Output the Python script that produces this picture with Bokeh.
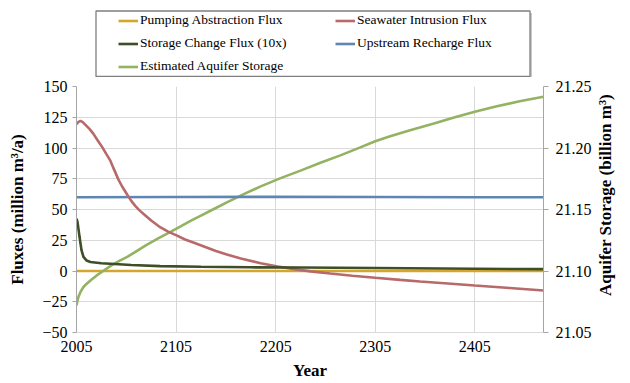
import math
from bokeh.plotting import figure
from bokeh.layouts import column, row
from bokeh.models import (Range1d, LinearAxis, FixedTicker, Legend, LegendItem,
                          PrintfTickFormatter)
from bokeh.core.properties import value
from bokeh.embed import file_html
from bokeh.resources import INLINE

# ---------------- data ----------------
pump_years = [2005, 2105, 2205, 2305, 2405, 2474]
pump_flux = [0, 0, 0, 0, 0, 0]

upstream_years = [2005, 2105, 2205, 2305, 2405, 2474]
upstream_flux = [60, 60.2, 60.3, 60.2, 60.0, 59.9]

seawater_years = [2005, 2007, 2009, 2011, 2014, 2018, 2022, 2026, 2031, 2035, 2039, 2043,
                  2047, 2051, 2056, 2060, 2064, 2068, 2073, 2080, 2089, 2097, 2106, 2114,
                  2123, 2135, 2145, 2156, 2170, 2190, 2207, 2224, 2240, 2260, 2282, 2305,
                  2330, 2350, 2378, 2405, 2440, 2474]
seawater_flux = [119.5, 121.2, 121.9, 121.2, 118.8, 115.5, 111.5, 106.5, 100.5, 95.0, 89.7, 82.0,
                 74.5, 68.5, 62.0, 57.0, 53.0, 49.5, 46.0, 41.0, 35.6, 32.0, 28.8, 25.6,
                 22.9, 19.3, 16.3, 13.4, 10.2, 6.3, 3.6, 1.5, -0.3, -2.0, -3.8, -5.5,
                 -7.2, -8.5, -10.2, -11.8, -13.8, -15.8]

change_years = [2005, 2006, 2007, 2008, 2010, 2012, 2015, 2019, 2030, 2039, 2060, 2089,
                2130, 2180, 2230, 2305, 2405, 2474]
change_flux = [42.5, 40.0, 34.0, 28.0, 17.0, 11.5, 8.6, 7.3, 6.3, 5.9, 4.9, 4.0,
               3.4, 3.0, 2.8, 2.4, 1.8, 1.5]

storage_years = [2005, 2006, 2007, 2009, 2012, 2015, 2019, 2025, 2031, 2040, 2048, 2056,
                 2065, 2075, 2087, 2099, 2110, 2120, 2130, 2140, 2156, 2173, 2190, 2210,
                 2230, 2250, 2270, 2290, 2305, 2320, 2340, 2364, 2385, 2405, 2425, 2450, 2474]
storage_bm3 = [21.072, 21.076, 21.079, 21.083, 21.087, 21.0895, 21.0923, 21.0962, 21.0996,
               21.1046, 21.1082, 21.1115, 21.116, 21.121, 21.1265, 21.1316, 21.1365, 21.141,
               21.145, 21.1492, 21.1558, 21.1625, 21.1688, 21.1755, 21.1816, 21.188, 21.194,
               21.2005, 21.2055, 21.2095, 21.2145, 21.22, 21.225, 21.2295, 21.2335, 21.238,
               21.2416]

x_ticks = [2005, 2105, 2205, 2305, 2405]
flux_ticks = [-50, -25, 0, 25, 50, 75, 100, 125, 150]
storage_ticks = [21.05, 21.10, 21.15, 21.20, 21.25]

series_labels = ["Pumping Abstraction Flux", "Seawater Intrusion Flux",
                 "Storage Change Flux (10x)", "Upstream Recharge Flux",
                 "Estimated Aquifer Storage"]

# ---------------- styling ----------------
SERIF = "Liberation Serif"
C_PUMP = "#d4a72c"
C_SEA = "#b8696a"
C_CHANGE = "#3e4e27"
C_UP = "#5f85b3"
C_STORE = "#93b262"
LW = 2.6

TOP_H = 77
MAIN_W, MAIN_H = 595, 383 - TOP_H
RIGHT_W = 630 - MAIN_W

# ---------------- legend strip (top) ----------------
lg = figure(width=630, height=TOP_H, output_backend="svg", toolbar_location=None,
            x_range=Range1d(0, 630), y_range=Range1d(TOP_H, 0),
            x_axis_type=None, y_axis_type=None,
            min_border=0, min_border_left=0, min_border_right=0,
            min_border_top=0, min_border_bottom=0)
lg.outline_line_color = None
lg.grid.visible = False
# legend frame with a light drop shadow
lg.quad(left=[97.5], right=[531.5], top=[12.5], bottom=[77], fill_color="#c8c8c8",
        line_color=None)
lg.quad(left=[95.5], right=[529.5], top=[10.5], bottom=[76], fill_color="white",
        line_color="#7f7f7f", line_width=1.3)

colors = [C_PUMP, C_SEA, C_CHANGE, C_UP, C_STORE]
nan = float("nan")
samples = [lg.line([nan], [nan], line_color=c, line_width=LW) for c in colors]

common = dict(orientation="vertical", padding=0, spacing=6, margin=0,
              glyph_width=20, glyph_height=17, label_height=17, label_standoff=2,
              label_text_font=SERIF, label_text_font_size="13.5px", label_text_color="black",
              border_line_color=None, background_fill_alpha=0)
leg1 = Legend(items=[LegendItem(label=series_labels[i], renderers=[samples[i]]) for i in (0, 2, 4)],
              location=(118, 2.5), **common)
leg2 = Legend(items=[LegendItem(label=series_labels[i], renderers=[samples[i]]) for i in (1, 3)],
              location=(335, 25.5), **common)
lg.add_layout(leg1)
lg.add_layout(leg2)

# ---------------- main chart ----------------
p = figure(width=MAIN_W, height=MAIN_H, output_backend="svg", toolbar_location=None,
           x_range=Range1d(2005, 2474), y_range=Range1d(-50, 150),
           min_border_left=76, min_border_right=52, min_border_top=9, min_border_bottom=51,
           background_fill_color="white", border_fill_color="white")
p.outline_line_color = None
p.extra_y_ranges = {"storage": Range1d(21.05, 21.25)}

p.line(pump_years, pump_flux, line_color=C_PUMP, line_width=LW)
p.line(storage_years, storage_bm3, line_color=C_STORE, line_width=LW, y_range_name="storage")
p.line(upstream_years, upstream_flux, line_color=C_UP, line_width=LW)
p.line(seawater_years, seawater_flux, line_color=C_SEA, line_width=LW)
p.line(change_years, change_flux, line_color=C_CHANGE, line_width=LW)

p.xaxis.ticker = FixedTicker(ticks=x_ticks)
p.yaxis.ticker = FixedTicker(ticks=flux_ticks)
p.xgrid.ticker = FixedTicker(ticks=x_ticks)
p.ygrid.ticker = FixedTicker(ticks=flux_ticks)
p.grid.grid_line_color = "#d9d9d9"
p.grid.grid_line_width = 1

p.xaxis.axis_label = "Year"
p.yaxis.axis_label = "Fluxes (million m\u00b3/a)"

right = LinearAxis(y_range_name="storage", ticker=FixedTicker(ticks=storage_ticks),
                   formatter=PrintfTickFormatter(format="%.2f"))
p.add_layout(right, "right")

for ax in [p.xaxis[0], p.yaxis[0], right]:
    ax.major_label_text_font = SERIF
    ax.major_label_text_font_size = "16px"
    ax.major_label_text_color = "black"
    ax.axis_label_text_font = SERIF
    ax.axis_label_text_font_size = "17px"
    ax.axis_label_text_font_style = "bold"
    ax.axis_label_text_color = "black"
    ax.minor_tick_line_color = None
    ax.major_tick_in = 0

p.xaxis.major_tick_out = 0
p.xaxis.major_label_standoff = 8
p.xaxis.axis_label_standoff = 6
p.xaxis.axis_line_color = "#d9d9d9"

p.yaxis[0].major_tick_out = 4
p.yaxis[0].major_label_standoff = 5
p.yaxis[0].axis_label_standoff = 12
p.yaxis[0].axis_line_color = "#a6a6a6"
p.yaxis[0].major_tick_line_color = "#a6a6a6"

right.major_tick_out = 5
right.major_label_standoff = 7
right.axis_line_color = "#a6a6a6"
right.major_tick_line_color = "#a6a6a6"

# ---------------- right axis title strip ----------------
rt = figure(width=RIGHT_W, height=MAIN_H, output_backend="svg", toolbar_location=None,
            x_range=Range1d(0, RIGHT_W), y_range=Range1d(MAIN_H, 0),
            x_axis_type=None, y_axis_type=None,
            min_border=0, min_border_left=0, min_border_right=0,
            min_border_top=0, min_border_bottom=0)
rt.outline_line_color = None
rt.grid.visible = False
rt.text(x=[10], y=[135], text=["Aquifer Storage (billion m\u00b3)"], angle=math.pi / 2,
        text_font=value(SERIF), text_font_size="17px", text_font_style="bold",
        text_align="center", text_baseline="middle", text_color="black")

layout = column(lg, row(p, rt, spacing=0), spacing=0)
open("out.html", "w").write(file_html(layout, INLINE))
